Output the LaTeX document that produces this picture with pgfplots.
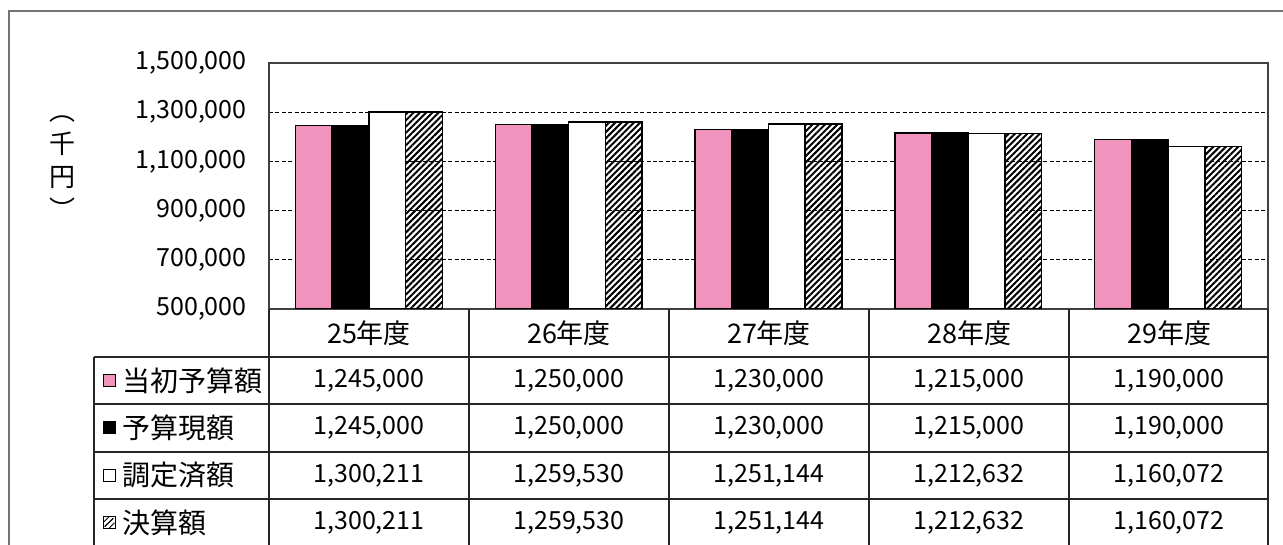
\documentclass[border=0pt]{standalone}
\usepackage{pgfplots}
\pgfplotsset{compat=1.18}
\usepackage{fontspec}
\setmainfont{Noto Sans CJK JP}
\usetikzlibrary{patterns.meta}
\definecolor{pinkbar}{RGB}{240,148,189}
\begin{document}
\begin{tikzpicture}[x=1pt,y=1pt]
\useasboundingbox (0,0) rectangle (641.5,272.5);
\draw[black!55, line width=0.6pt] (4.5,-2) -- (4.5,267) -- (646,267);
\begin{axis}[
  at={(134.5pt,118pt)}, anchor=south west,
  scale only axis, width=499.5pt, height=123pt,
  xmin=-0.5, xmax=4.5, ymin=500000, ymax=1500000,
  ytick={500000,700000,900000,1100000,1300000,1500000},
  xtick=\empty,
  ybar=0pt, bar width=18.35pt,
  ymajorgrids,
  grid style={black, line width=0.45pt, dash pattern=on 2pt off 1.2pt},
  major tick length=0pt,
  axis line style={black!75, line width=0.6pt},
  scaled y ticks=false,
  yticklabel style={font=\fontsize{12.5}{14}\selectfont, inner sep=0pt, xshift=-11pt,
    /pgf/number format/.cd, fixed, 1000 sep={,}, assume math mode=true},
]
\addplot[fill=pinkbar, draw=black, line width=0.75pt] coordinates {(0,1245000) (1,1250000) (2,1230000) (3,1215000) (4,1190000)};
\addplot[fill=black, draw=black, line width=0.75pt] coordinates {(0,1245000) (1,1250000) (2,1230000) (3,1215000) (4,1190000)};
\addplot[fill=white, draw=black, line width=0.75pt] coordinates {(0,1300211) (1,1259530) (2,1251144) (3,1212632) (4,1160072)};
\addplot[fill=white, pattern={Lines[angle=45,distance=2.2pt,line width=1pt]}, draw=black, line width=0.75pt] coordinates {(0,1300211) (1,1259530) (2,1251144) (3,1212632) (4,1160072)};
\end{axis}
% y label
\node[align=center, font=\fontsize{13}{16.5}\selectfont, inner sep=0pt] at (31,188.5) {︵\\千\\円\\︶};
% data table
\begin{scope}[black!85, line width=0.7pt]
\foreach \y in {94,70.5,46.5,23} {\draw (47,\y) -- (634,\y);}
\draw (47,94) -- (47,-2);
\foreach \x in {134.5,234.5,334.5,434.5,534.5,634} {\draw (\x,118) -- (\x,-2);}
\end{scope}
\foreach \lab [count=\i from 0] in {25年度,26年度,27年度,28年度,29年度}
  {\node[font=\fontsize{13.5}{15}\selectfont] at (184.5+100*\i,106) {\lab};}
\begin{scope}[every node/.style={font=\fontsize{12.5}{14}\selectfont}]
\node at (184.5,82.25) {1,245,000}; \node at (284.5,82.25) {1,250,000}; \node at (384.5,82.25) {1,230,000}; \node at (484.5,82.25) {1,215,000}; \node at (584.5,82.25) {1,190,000};
\node at (184.5,58.5) {1,245,000}; \node at (284.5,58.5) {1,250,000}; \node at (384.5,58.5) {1,230,000}; \node at (484.5,58.5) {1,215,000}; \node at (584.5,58.5) {1,190,000};
\node at (184.5,34.75) {1,300,211}; \node at (284.5,34.75) {1,259,530}; \node at (384.5,34.75) {1,251,144}; \node at (484.5,34.75) {1,212,632}; \node at (584.5,34.75) {1,160,072};
\node at (184.5,11.25) {1,300,211}; \node at (284.5,11.25) {1,259,530}; \node at (384.5,11.25) {1,251,144}; \node at (484.5,11.25) {1,212,632}; \node at (584.5,11.25) {1,160,072};
\end{scope}
% legend keys
\draw[fill=pinkbar, line width=0.5pt] (51.5,79.25) rectangle (57.5,85.25);
\draw[fill=black, line width=0.5pt] (51.5,55.5) rectangle (57.5,61.5);
\draw[fill=white, line width=0.5pt] (51.5,31.75) rectangle (57.5,37.75);
\draw[fill=white, line width=0.5pt] (51.5,8.25) rectangle (57.5,14.25);
\draw[line width=0.6pt] (52.3,9.2) -- (56.7,13.4);
\draw[line width=0.4pt] (51.8,11.4) -- (54.4,14) (54.6,8.5) -- (57.2,11.1);
\begin{scope}[every node/.style={font=\fontsize{14}{16}\selectfont, anchor=west, inner sep=0pt}]
\node at (61,82.25) {当初予算額};
\node at (61,58.5) {予算現額};
\node at (61,34.75) {調定済額};
\node at (61,11.25) {決算額};
\end{scope}
\end{tikzpicture}
\end{document}
